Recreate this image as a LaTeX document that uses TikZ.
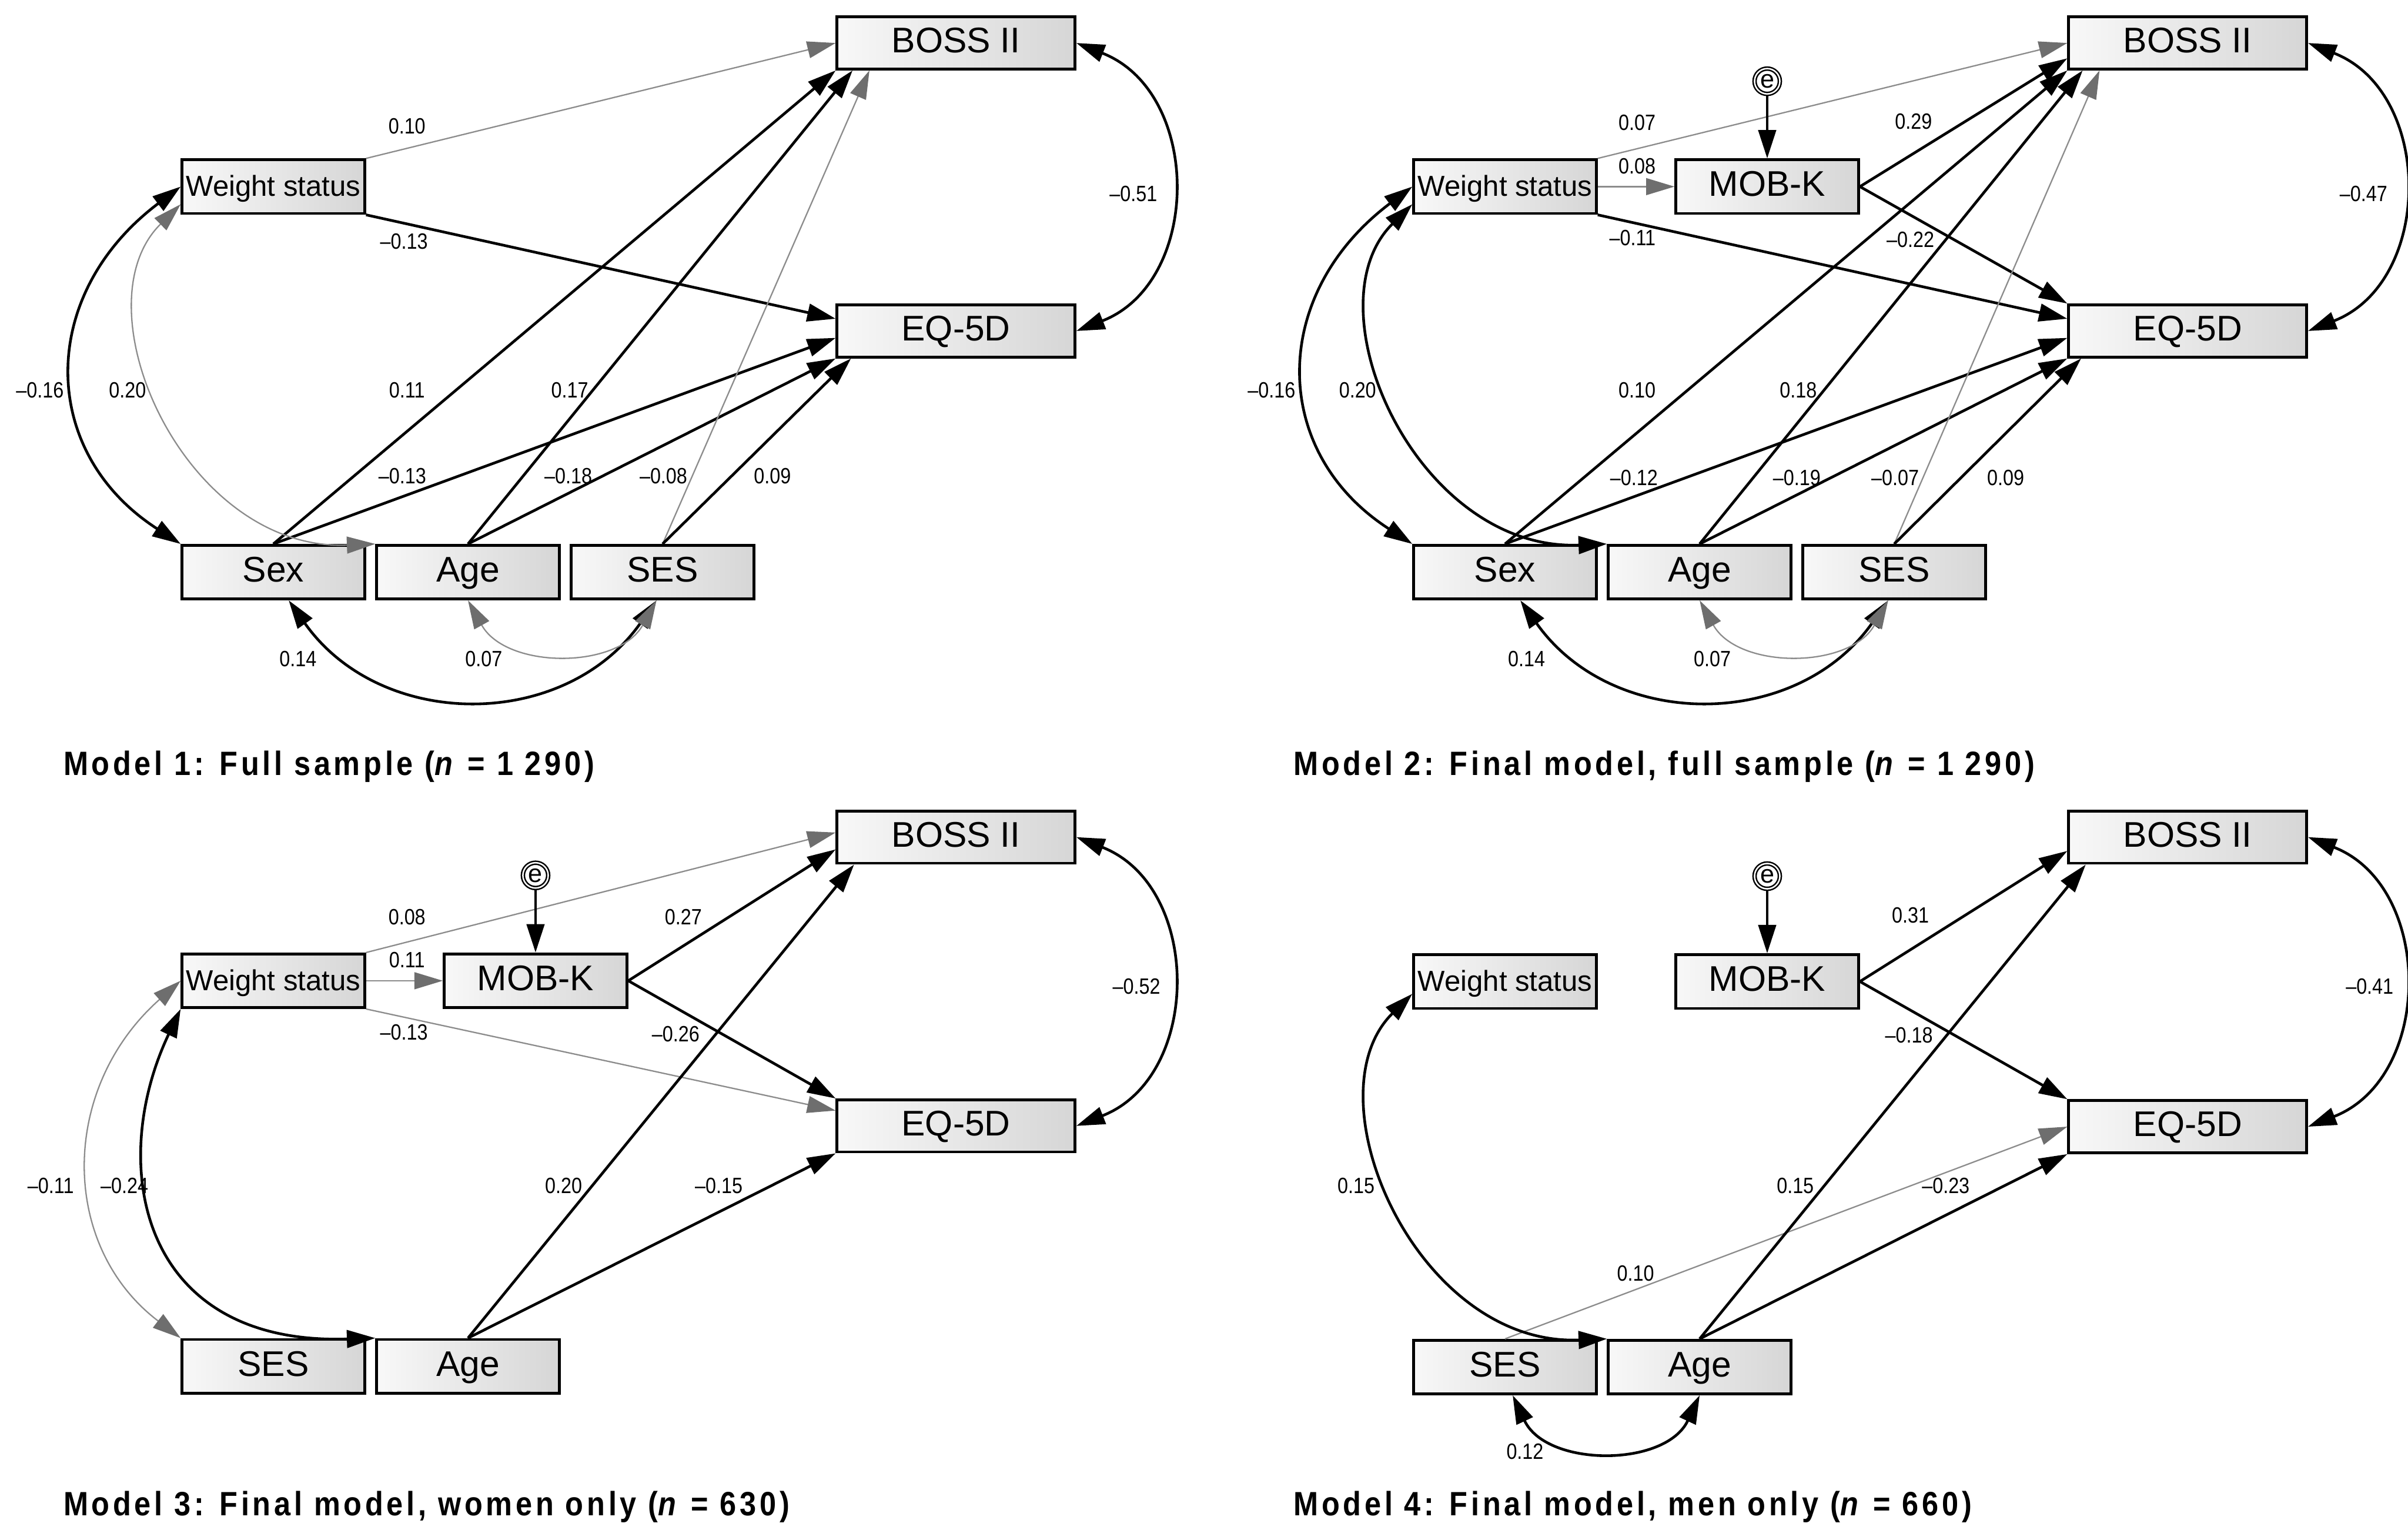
\documentclass[tikz,border=0pt]{standalone}
\usepackage{fontspec}
\setmainfont{Liberation Sans}
\newfontfamily\numfont[FakeStretch=0.86]{Liberation Sans}
\newfontfamily\capfont[FakeStretch=0.88,LetterSpace=10]{Liberation Sans}
\usetikzlibrary{arrows.meta,positioning}
\definecolor{weakline}{HTML}{8C8C8C}
\definecolor{weakhead}{HTML}{6E6E6E}
\definecolor{boxshade}{HTML}{D6D6D6}
\definecolor{boxlight}{HTML}{F8F8F8}

\begin{document}
\begin{tikzpicture}[x=0.02cm,y=-0.02cm,
 bigvar/.style={draw,line width=1pt,left color=boxlight,right color=boxshade,minimum width=3.1cm,minimum height=0.68cm,inner sep=1pt,text height=.72em,text depth=0pt,font=\fontsize{13.2}{15}\selectfont},
 smallvar/.style={bigvar,minimum width=2.38cm,minimum height=0.7cm},
 wsbox/.style={smallvar,font=\fontsize{10.7}{12}\selectfont},
 err/.style={circle,draw,double,line width=0.55pt,double distance=0.55pt,minimum size=0.33cm,inner sep=0pt,font=\fontsize{9.4}{10}\selectfont},
 eff/.style={line width=1pt,-{Triangle[length=3.7mm,width=2.3mm]}},
 weakeff/.style={draw=weakline,line width=0.5pt,-{Triangle[length=3.7mm,width=2.2mm,color=weakhead]}},
 cov/.style={line width=1pt,{Triangle[length=3.7mm,width=2.3mm]}-{Triangle[length=3.7mm,width=2.3mm]}},
 weakcov/.style={draw=weakline,line width=0.5pt,{Triangle[length=3.7mm,width=2.2mm,color=weakhead]}-{Triangle[length=3.7mm,width=2.2mm,color=weakhead]}},
 coef/.style={inner sep=0pt,font=\numfont\fontsize{8.2}{9}\selectfont},
 modelcap/.style={anchor=west,inner sep=0pt,font=\capfont\bfseries\fontsize{12.5}{14}\selectfont}]
 \useasboundingbox (0,0) rectangle (1568,996);

 % Model 1
 \begin{scope}
 \node[bigvar] (boss1) at (622.5,28) {BOSS II}; \node[bigvar] (eq1) at (622.5,215.5) {EQ-5D};
 \node[wsbox] (ws1) at (178,121.5) {Weight status};
 \node[smallvar] (sex1) at (178,372.5) {Sex}; \node[smallvar,right=.12cm of sex1] (age1) {Age}; \node[smallvar,right=.12cm of age1] (ses1) {SES};
 \draw[weakeff] (ws1.north east) -- (boss1.west); \draw[eff] (ws1.south east) -- ([yshift=.16cm]eq1.west);
 \draw[eff] (sex1.north) -- (boss1.south west); \draw[eff] (sex1.north) -- ([yshift=-.09cm]eq1.west);
 \draw[eff] (age1.north) -- ([xshift=.22cm]boss1.south west); \draw[eff] (age1.north) -- (eq1.south west);
 \draw[weakeff] (ses1.north) -- ([xshift=.44cm]boss1.south west); \draw[eff] (ses1.north) -- ([xshift=.2cm]eq1.south west);
 \draw[cov] (boss1.east) .. controls +(82,32) and +(82,-32) .. (eq1.east);
 \draw[cov] (ws1.west) .. controls +(-93,70) and +(-93,-60) .. (sex1.north west);
 \draw[weakcov] ([yshift=-.23cm]ws1.west) .. controls +(-68,67) and +(-124,5) .. (age1.north west);
 \draw[cov] ([xshift=.2cm]sex1.south) .. controls +(60,85) and +(-60,85) .. ([xshift=-.08cm]ses1.south);
 \draw[weakcov] (age1.south) .. controls +(25,45) and +(-25,45) .. ([xshift=-.08cm]ses1.south);
 \node[coef] (c1a) at (265,82) {0.10}; \node[coef] (c1b) at (263,157) {–0.13};
 \node[coef] (c1c) at (265,254) {0.11}; \node[coef] (c1d) at (371,254) {0.17};
 \node[coef] (c1e) at (262,310) {–0.13}; \node[coef] (c1f) at (370,310) {–0.18};
 \node[coef] (c1g) at (432,310) {–0.08}; \node[coef] (c1h) at (503,310) {0.09};
 \node[coef] (c1i) at (738,126) {–0.51}; \node[coef] (c1j) at (26,254) {–0.16};
 \node[coef] (c1k) at (83,254) {0.20}; \node[coef] (c1l) at (194,429) {0.14}; \node[coef] (c1m) at (315,429) {0.07};
 \end{scope}

 % Model 2
 \begin{scope}[shift={(802,0)}]
 \node[bigvar] (boss2) at (622.5,28) {BOSS II}; \node[bigvar] (eq2) at (622.5,215.5) {EQ-5D};
 \node[wsbox] (ws2) at (178,121.5) {Weight status}; \node[smallvar,right=1cm of ws2] (mob2) {MOB-K};
 \node[err,above=.83cm of mob2] (e2) {e};
 \node[smallvar] (sex2) at (178,372.5) {Sex}; \node[smallvar,right=.12cm of sex2] (age2) {Age}; \node[smallvar,right=.12cm of age2] (ses2) {SES};
 \draw[weakeff] (ws2.north east) -- (boss2.west); \draw[weakeff] (ws2) -- (mob2); \draw[eff] (e2) -- (mob2);
 \draw[eff] (mob2.east) -- ([yshift=-.2cm]boss2.west); \draw[eff] (mob2.east) -- (eq2.north west);
 \draw[eff] (ws2.south east) -- ([yshift=.16cm]eq2.west);
 \draw[eff] (sex2.north) -- (boss2.south west); \draw[eff] (sex2.north) -- ([yshift=-.09cm]eq2.west);
 \draw[eff] (age2.north) -- ([xshift=.2cm]boss2.south west); \draw[eff] (age2.north) -- (eq2.south west);
 \draw[weakeff] (ses2.north) -- ([xshift=.42cm]boss2.south west); \draw[eff] (ses2.north) -- ([xshift=.18cm]eq2.south west);
 \draw[cov] (boss2.east) .. controls +(82,32) and +(82,-32) .. (eq2.east);
 \draw[cov] (ws2.west) .. controls +(-93,70) and +(-93,-60) .. (sex2.north west);
 \draw[cov] ([yshift=-.23cm]ws2.west) .. controls +(-68,67) and +(-124,5) .. (age2.north west);
 \draw[cov] ([xshift=.2cm]sex2.south) .. controls +(60,85) and +(-60,85) .. ([xshift=-.08cm]ses2.south);
 \draw[weakcov] (age2.south) .. controls +(25,45) and +(-25,45) .. ([xshift=-.08cm]ses2.south);
 \node[coef] (c2a) at (264,80) {0.07}; \node[coef] (c2b) at (264,108) {0.08};
 \node[coef] (c2c) at (444,79) {0.29}; \node[coef] (c2d) at (442,156) {–0.22};
 \node[coef] (c2e) at (261,155) {–0.11}; \node[coef] (c2f) at (264,254) {0.10};
 \node[coef] (c2g) at (262,311) {–0.12}; \node[coef] (c2h) at (369,254) {0.18};
 \node[coef] (c2i) at (368,311) {–0.19}; \node[coef] (c2j) at (432,311) {–0.07};
 \node[coef] (c2k) at (504,311) {0.09}; \node[coef] (c2l) at (737,126) {–0.47};
 \node[coef] (c2m) at (26,254) {–0.16}; \node[coef] (c2n) at (82,254) {0.20};
 \node[coef] (c2o) at (192,429) {0.14}; \node[coef] (c2p) at (313,429) {0.07};
 \end{scope}

 % Model 3
 \begin{scope}[shift={(0,517)}]
 \node[bigvar] (boss3) at (622.5,28) {BOSS II}; \node[bigvar] (eq3) at (622.5,216) {EQ-5D};
 \node[wsbox] (ws3) at (178,121.5) {Weight status}; \node[smallvar,right=1cm of ws3] (mob3) {MOB-K};
 \node[err,above=.83cm of mob3] (e3) {e};
 \node[smallvar] (ses3) at (178,372.5) {SES}; \node[smallvar,right=.12cm of ses3] (age3) {Age};
 \draw[weakeff] (ws3.north east) -- ([yshift=.06cm]boss3.west); \draw[weakeff] (ws3) -- (mob3); \draw[eff] (e3) -- (mob3);
 \draw[eff] (mob3.east) -- ([yshift=-.16cm]boss3.west); \draw[eff] (mob3.east) -- (eq3.north west);
 \draw[weakeff] (ws3.south east) -- ([yshift=.2cm]eq3.west);
 \draw[eff] (age3.north) -- ([xshift=.24cm]boss3.south west); \draw[eff] (age3.north) -- (eq3.south west);
 \draw[cov] (boss3.east) .. controls +(82,32) and +(82,-32) .. (eq3.east);
 \draw[weakcov] (ws3.west) .. controls +(-79,70) and +(-79,-60) .. (ses3.north west);
 \draw[cov] (ws3.south west) .. controls +(-48,101) and +(-154,5) .. (age3.north west);
 \node[coef] (c3a) at (265,80) {0.08}; \node[coef] (c3b) at (265,108) {0.11};
 \node[coef] (c3c) at (445,80) {0.27}; \node[coef] (c3d) at (440,156) {–0.26};
 \node[coef] (c3e) at (263,155) {–0.13}; \node[coef] (c3f) at (740,125) {–0.52};
 \node[coef] (c3g) at (33,255) {–0.11}; \node[coef] (c3h) at (81,255) {–0.24};
 \node[coef] (c3i) at (367,255) {0.20}; \node[coef] (c3j) at (468,255) {–0.15};
 \end{scope}

 % Model 4
 \begin{scope}[shift={(802,517)}]
 \node[bigvar] (boss4) at (622.5,28) {BOSS II}; \node[bigvar] (eq4) at (622.5,216.5) {EQ-5D};
 \node[wsbox] (ws4) at (178,122) {Weight status}; \node[smallvar,right=1cm of ws4] (mob4) {MOB-K};
 \node[err,above=.83cm of mob4] (e4) {e};
 \node[smallvar] (ses4) at (178,373) {SES}; \node[smallvar,right=.12cm of ses4] (age4) {Age};
 \draw[eff] (e4) -- (mob4);
 \draw[eff] (mob4.east) -- ([yshift=-.18cm]boss4.west); \draw[eff] (mob4.east) -- (eq4.north west);
 \draw[weakeff] (ses4.north) -- (eq4.west);
 \draw[eff] (age4.north) -- ([xshift=.24cm]boss4.south west); \draw[eff] (age4.north) -- (eq4.south west);
 \draw[cov] (boss4.east) .. controls +(82,32) and +(82,-32) .. (eq4.east);
 \draw[cov] ([yshift=-.16cm]ws4.west) .. controls +(-68,67) and +(-124,5) .. (age4.north west);
 \draw[cov] ([xshift=.1cm]ses4.south) .. controls +(22,47) and +(-22,47) .. (age4.south);
 \node[coef] (c4a) at (442,79) {0.31}; \node[coef] (c4b) at (441,157) {–0.18};
 \node[coef] (c4c) at (741,125) {–0.41}; \node[coef] (c4d) at (81,255) {0.15};
 \node[coef] (c4e) at (263,312) {0.10}; \node[coef] (c4f) at (367,255) {0.15};
 \node[coef] (c4g) at (465,255) {–0.23}; \node[coef] (c4h) at (191,428) {0.12};
 \end{scope}

 \node[modelcap] (cap1) at (41,499) {Model 1: Full sample (\textit{n} = 1 290)};
 \node[modelcap] (cap2) at (842,499) {Model 2: Final model, full sample (\textit{n} = 1 290)};
 \node[modelcap] (cap3) at (41,981) {Model 3: Final model, women only (\textit{n} = 630)};
 \node[modelcap] (cap4) at (842,981) {Model 4: Final model, men only (\textit{n} = 660)};
\end{tikzpicture}
\end{document}
